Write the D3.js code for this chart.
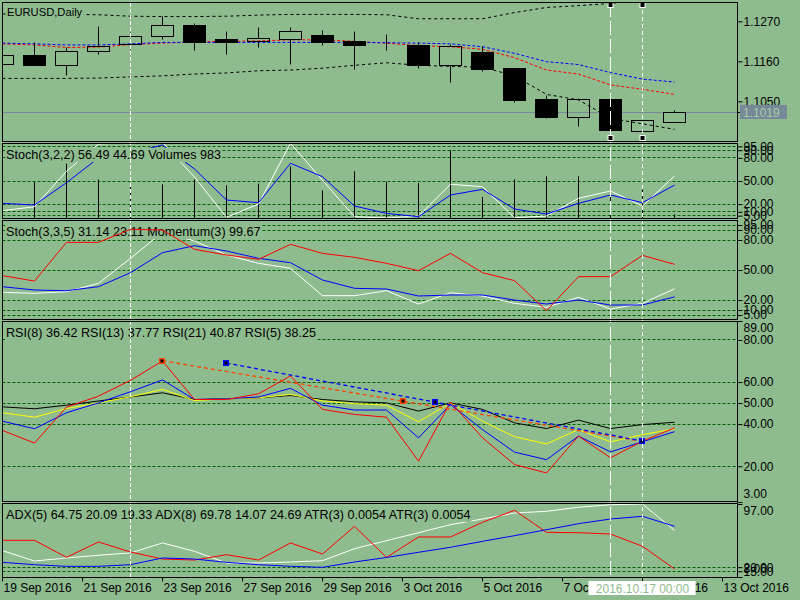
<!DOCTYPE html>
<html>
<head>
<meta charset="utf-8">
<script src="https://cdn.jsdelivr.net/npm/d3@7"></script>
<style>
	body { margin: 0; background: #8fbc8f; }
	svg { display: block; }
</style>
</head>
<body>
<svg id="chart" width="800" height="600"></svg>
<script>
(function(){

	//Daily bars, oldest first
	var barDates = ["2016.09.19","2016.09.20","2016.09.21","2016.09.22","2016.09.23","2016.09.26","2016.09.27","2016.09.28","2016.09.29","2016.09.30","2016.10.03","2016.10.04","2016.10.05","2016.10.06","2016.10.07","2016.10.10","2016.10.11","2016.10.12","2016.10.13","2016.10.14","2016.10.17","2016.10.18"];
	var opens  = [1.1152,1.1175,1.1148,1.1186,1.1207,1.1229,1.1258,1.1219,1.1214,1.1220,1.1230,1.1214,1.1204,1.1204,1.1148,1.1184,1.1139,1.1054,1.1005,1.1056,1.0966,1.0993];
	var highs  = [1.1175,1.1211,1.1197,1.1257,1.1240,1.1283,1.1263,1.1241,1.1252,1.1252,1.1246,1.1241,1.1235,1.1211,1.1205,1.1200,1.1141,1.1067,1.1059,1.1058,1.0998,1.1026];
	var lows   = [1.1152,1.1148,1.1120,1.1180,1.1193,1.1219,1.1189,1.1180,1.1197,1.1151,1.1203,1.1137,1.1189,1.1141,1.1101,1.1133,1.1046,1.1002,1.0982,1.0969,1.0966,1.0993];
	var closes = [1.1175,1.1148,1.1188,1.1200,1.1227,1.1258,1.1213,1.1213,1.1224,1.1243,1.1213,1.1203,1.1204,1.1148,1.1202,1.1137,1.1053,1.1005,1.1056,1.0969,1.0998,1.1019];
	var priceNow = 1.1019;

	//moving averages and bands on the price chart
	var maBlue  = [1.1210,1.1208,1.1205,1.1205,1.1208,1.1212,1.1212,1.1212,1.1212,1.1212,1.1212,1.1212,1.1211,1.1210,1.1208,1.1200,1.1182,1.1159,1.1151,1.1129,1.1111,1.1103];
	var maRed   = [1.1208,1.1205,1.1198,1.1199,1.1206,1.1210,1.1213,1.1215,1.1216,1.1219,1.1219,1.1215,1.1210,1.1203,1.1200,1.1193,1.1170,1.1136,1.1125,1.1095,1.1083,1.1069];
	var bbUpper = [1.1290,1.1290,1.1289,1.1288,1.1284,1.1283,1.1283,1.1284,1.1287,1.1289,1.1289,1.1289,1.1288,1.1277,1.1277,1.1277,1.1294,1.1308,1.1313,1.1319,1.1329,1.1337];
	var bbLower = [1.1113,1.1113,1.1113,1.1114,1.1117,1.1120,1.1125,1.1128,1.1134,1.1136,1.1141,1.1149,1.1156,1.1149,1.1146,1.1144,1.1120,1.1069,1.1054,1.1003,1.0988,1.0973];

	//Stoch(3,2,2) + Volumes
	var stochAMain   = [11.4,16.6,62.6,98,100,100,55.2,2.9,20.1,99,50.9,3.6,2,4.5,45.7,42.6,2.3,4.5,27.5,37,17.5,56.49];
	var stochASignal = [21,18.8,47.8,80,86,96.8,65.6,25.3,21.8,73,55.6,17.5,8,3.6,31.8,39.2,13.6,7.1,21,31.8,21.8,44.69];
	var volumes = [12000,9470,14300,10100,8860,8860,10180,8600,9050,13600,7290,12280,9570,9200,17800,5520,10180,10970,10970,9470,7550,983];

	//Stoch(3,3,5) + Momentum(3)
	var stochBMain   = [27.7,26.7,28.3,36.7,61.7,87.7,79,65,56.7,51.7,24.3,24.3,29.3,16,27.3,24,16.7,12.7,22.7,11,16.7,31.14];
	var stochBSignal = [33.3,30,29.3,33.3,47.3,67.3,74.3,69,61.7,57.3,40,31.7,31,24,25,25,20,16,20,15,15,23.11];
	var momentum = [99.33,99.17,100.33,100.33,100.72,100.70,100.12,99.95,99.82,100.27,100.00,99.88,99.70,99.48,100.00,99.42,99.18,98.28,99.30,99.30,99.94,99.67];

	//RSI lines
	var rsi5  = [37,31,48.1,53.3,60.8,70,51.7,51.7,54.4,62.9,47,44.6,43.3,22.4,50.5,33.5,20.8,16.8,34.3,24,31.9,38.25];
	var rsi8  = [41.4,37.8,45.4,50.1,55.4,61,51.7,52,52.9,57,49,46.7,46.7,33.5,49.3,37.4,26.7,23.1,34.3,26.8,31.6,36.42];
	var rsi13 = [45.4,43.3,47.4,50.1,53,56.5,51.2,52,52.5,54.1,51,49.7,49,41.1,50.1,41.4,34,30.6,37.4,31.6,35,37.77];
	var rsi21 = [48.2,47.3,49,51,52.9,54.9,51.7,52,52.5,53.6,51.7,50.6,50.1,46.2,50.1,47,40.6,37.9,41.9,37.9,39.8,40.87];
	//trend lines drawn on the RSI window: [bar, value]
	var trendOrange = [[5,70.1],[12.5,50.9],[19.8,32.3]];
	var trendBlue   = [[7,69.0],[13.5,50.5],[20,32.0]];

	//ADX window
	var adx5Main = [40.1,27.5,31.2,34.5,37.3,49.5,39.3,25.1,25.1,26.3,27.9,42.5,52.3,62,71.8,78.7,86,88.1,93,96.1,97,64.75];
	var adx8Main = [25.9,23,21,21,23,31.2,29.9,25.9,23,21,19.8,26.3,31.8,38.1,44.2,51.5,58.4,65.7,73,78.7,82,69.78];
	var adxDI    = [52.7,52.7,32,50.7,38.5,29.9,28.7,35.2,28.7,49.5,36,69.8,32,56.8,56.8,74.7,89.3,62.5,62,60.4,45.4,17.8];

	//levels and tick labels
	var priceTicks = [1.1270, 1.1160, 1.1050];
	var stochLevels = [95, 90, 80, 50, 20, 10, 5];
	var rsiLevels = [80, 60, 50, 40, 20];
	var rsiTicks = [89, 80, 60, 50, 40, 20, 3];
	var adxLevels = [20, 15];
	var adxTicks = [97, 20, 15, 8];
	var xLabels = ["19 Sep 2016","21 Sep 2016","23 Sep 2016","27 Sep 2016","29 Sep 2016","3 Oct 2016","5 Oct 2016","7 Oct 2016","11 Oct 2016","13 Oct 2016"];
	var xLabelBars = [0, 2.5, 5, 7.5, 10, 12.5, 15, 17.5, 20, 22.5];
	var vLineBars = [4, 19, 20];
	var selectedBar = 20;

	var legends = {
		main: "EURUSD,Daily",
		stochA: "Stoch(3,2,2) 56.49 44.69 Volumes 983",
		stochB: "Stoch(3,3,5) 31.14 23.11 Momentum(3) 99.67",
		rsi: "RSI(8) 36.42 RSI(13) 37.77 RSI(21) 40.87 RSI(5) 38.25",
		adx: "ADX(5) 64.75 20.09 19.33 ADX(8) 69.78 14.07 24.69 ATR(3) 0.0054 ATR(3) 0.0054"
	};

	//Look
	var bg = "#8fbc8f";
	var gridColor = "#006400";
	var font = "'Liberation Sans', Arial, sans-serif";
	var legendSize = 12.6;
	var left = 2.5, right = 737.5;

	var svg = d3.select("#chart")
		.attr("font-family", font)
		.attr("font-size", 12);

	svg.append("rect").attr("width", 800).attr("height", 600).attr("fill", bg);

	//bar index -> x
	var xBar = d3.scaleLinear().domain([0, 21]).range([2.5, 674.5]);

	//value scales for every window
	var yPrice = d3.scaleLinear().domain([1.1050, 1.1270]).range([101.3, 21.3]);
	var yStochA = d3.scaleLinear().domain([0, 100]).range([219.5, 142.5]);
	var yVol = d3.scaleLinear().domain([0, 20000]).range([218, 142]);
	var yStochB = d3.scaleLinear().domain([0, 100]).range([320, 220]);
	var yMom = d3.scaleLinear().domain([98, 101]).range([320, 220]);
	var yRsi = d3.scaleLinear().domain([3, 89]).range([502, 321]);
	var yAdx = d3.scaleLinear().domain([8, 97]).range([577, 504]);

	var pMain = makePanel("main", 2.5, 141.5);
	var pStochA = makePanel("stochA", 143.5, 218.5);
	var pStochB = makePanel("stochB", 220.5, 319.5);
	var pRsi = makePanel("rsi", 321.5, 501.5);
	var pAdx = makePanel("adx", 503.5, 577.5);

	// ---- price window ----
	drawSeries(pMain.inner, bbUpper, yPrice, "black", "3,3");
	drawSeries(pMain.inner, bbLower, yPrice, "black", "3,3");
	drawSeries(pMain.inner, maRed, yPrice, "red", "3,2");
	drawSeries(pMain.inner, maBlue, yPrice, "blue", "3,2");

	pMain.inner.append("line")
		.attr("x1", left).attr("x2", right)
		.attr("y1", px(yPrice(priceNow))).attr("y2", px(yPrice(priceNow)))
		.attr("stroke", "#778899");

	drawCandles(pMain.inner);
	drawLegend(pMain.g, 7, 16, legends.main, 11.2);

	// ---- Stoch(3,2,2) + Volumes ----
	drawLevels(pStochA, stochLevels, yStochA);
	pStochA.inner.selectAll(".vol")
		.data(volumes)
		.enter()
		.append("line")
		.attr("x1", function(d, i){ return xBar(i); })
		.attr("x2", function(d, i){ return xBar(i); })
		.attr("y1", yVol(0))
		.attr("y2", function(d){ return yVol(d); })
		.attr("stroke", "black");
	drawSeries(pStochA.inner, stochAMain, yStochA, "white");
	drawSeries(pStochA.inner, stochASignal, yStochA, "blue");
	drawLegend(pStochA.g, 6, 159, legends.stochA, legendSize);

	// ---- Stoch(3,3,5) + Momentum ----
	drawLevels(pStochB, stochLevels, yStochB);
	drawSeries(pStochB.inner, stochBMain, yStochB, "white");
	drawSeries(pStochB.inner, stochBSignal, yStochB, "blue");
	drawLegend(pStochB.g, 6, 236, legends.stochB, legendSize);
	drawSeries(pStochB.g.append("g").attr("clip-path", "url(#clip-stochB)"), momentum, yMom, "red");

	// ---- RSI ----
	drawLevels(pRsi, rsiLevels, yRsi);
	drawSeries(pRsi.inner, rsi21, yRsi, "black");
	drawSeries(pRsi.inner, rsi13, yRsi, "yellow");
	drawSeries(pRsi.inner, rsi8, yRsi, "blue");
	drawSeries(pRsi.inner, rsi5, yRsi, "red");
	drawTrend(pRsi.inner, trendOrange, "#ff4500", 2);
	drawTrend(pRsi.inner, trendBlue, "blue", 3);
	drawLegend(pRsi.g, 6, 337, legends.rsi, legendSize);

	// ---- ADX / ATR ----
	drawLevels(pAdx, adxLevels, yAdx);
	drawSeries(pAdx.inner, adx5Main, yAdx, "white");
	drawSeries(pAdx.inner, adxDI, yAdx, "red");
	drawSeries(pAdx.inner, adx8Main, yAdx, "blue");
	drawLegend(pAdx.g, 6, 519, legends.adx, legendSize);

	// ---- right axes ----
	drawAxis(yPrice, priceTicks, ".4f");
	drawAxis(yStochA, stochLevels, ".2f");
	drawAxis(yStochB, stochLevels, ".2f");
	drawAxis(yRsi, rsiTicks, ".2f", 89, 3);
	drawAxis(yAdx, adxTicks, ".2f", 97, 8);

	//current price tag
	var tagY = px(yPrice(priceNow));
	svg.append("line")
		.attr("x1", right).attr("x2", 741)
		.attr("y1", tagY).attr("y2", tagY)
		.attr("stroke", "black");
	svg.append("rect")
		.attr("x", 740).attr("y", tagY - 7.5)
		.attr("width", 47).attr("height", 14)
		.attr("fill", "#778899");
	svg.append("text")
		.attr("x", 743).attr("y", tagY + 4.5)
		.attr("fill", "#a6cda4")
		.text(d3.format(".4f")(priceNow));

	// ---- time axis ----
	var timeAxis = svg.append("g")
		.attr("transform", "translate(-0.5,577.5)")
		.call(d3.axisBottom(xBar)
			.tickValues(xLabelBars)
			.tickSize(4)
			.tickPadding(2)
			.tickFormat(function(d, i){ return xLabels[i]; }));
	timeAxis.attr("font-family", font).attr("font-size", 12);
	timeAxis.select(".domain").remove();
	timeAxis.selectAll("text").attr("text-anchor", "start").attr("x", 1);

	// ---- vertical lines ----
	var vDash = ["4,2", "14,4", "4,3"];
	svg.selectAll(".vline")
		.data(vLineBars)
		.enter()
		.append("line")
		.attr("x1", function(d){ return xBar(d); })
		.attr("x2", function(d){ return xBar(d); })
		.attr("y1", 3).attr("y2", 577)
		.attr("stroke", "white")
		.attr("stroke-dasharray", function(d, i){ return vDash[i]; });

	//selection handles of the two right lines
	[19, 20].forEach(function(b){
		[5, 138].forEach(function(y){
			svg.append("rect")
				.attr("x", xBar(b) - 3).attr("y", y - 3)
				.attr("width", 6).attr("height", 6)
				.attr("fill", "white");
			svg.append("rect")
				.attr("x", xBar(b) - 2).attr("y", y - 2)
				.attr("width", 4).attr("height", 4)
				.attr("fill", "black");
		});
	});

	//borders last so they sit above the lines
	[pMain, pStochA, pStochB, pRsi, pAdx].forEach(function(p){
		svg.append("rect")
			.attr("x", left).attr("y", p.top)
			.attr("width", right - left).attr("height", p.bottom - p.top)
			.attr("fill", "none")
			.attr("stroke", "black");
	});

	//date tag of the selected line
	var tagText = barDates[selectedBar] + " 00:00";
	svg.append("rect")
		.attr("x", xBar(selectedBar) - 54).attr("y", 581)
		.attr("width", 107).attr("height", 14)
		.attr("fill", "white");
	svg.append("text")
		.attr("x", xBar(selectedBar)).attr("y", 592.5)
		.attr("text-anchor", "middle")
		.attr("fill", bg)
		.text(tagText);


	//Creates a window with its own clip region
	function makePanel(name, top, bottom){
		svg.append("clipPath")
			.attr("id", "clip-" + name)
			.append("rect")
			.attr("x", left + 0.5).attr("y", top + 0.5)
			.attr("width", right - left - 1).attr("height", bottom - top - 1);
		var g = svg.append("g").attr("id", name);
		var inner = g.append("g").attr("clip-path", "url(#clip-" + name + ")");
		return {g: g, inner: inner, top: top, bottom: bottom};
	}

	//snap to the middle of a pixel
	function px(v){ return Math.round(v - 0.5) + 0.5; }

	function drawLevels(p, levels, scale){
		p.inner.selectAll(".level")
			.data(levels)
			.enter()
			.append("line")
			.attr("x1", left).attr("x2", right)
			.attr("y1", function(d){ return px(scale(d)); })
			.attr("y2", function(d){ return px(scale(d)); })
			.attr("stroke", gridColor)
			.attr("stroke-dasharray", "3,2");
	}

	function drawSeries(target, values, scale, color, dash){
		var line = d3.line()
			.x(function(d, i){ return xBar(i); })
			.y(function(d){ return scale(d); });
		target.append("path")
			.datum(values)
			.attr("d", line)
			.attr("fill", "none")
			.attr("stroke", color)
			.attr("stroke-width", 1)
			.attr("stroke-dasharray", dash || null);
	}

	//dashed trend line with square anchors
	function drawTrend(target, pts, color, anchors){
		var first = pts[0], last = pts[pts.length - 1];
		target.append("line")
			.attr("x1", xBar(first[0])).attr("y1", yRsi(first[1]))
			.attr("x2", xBar(last[0])).attr("y2", yRsi(last[1]))
			.attr("stroke", color)
			.attr("stroke-width", 1.3)
			.attr("stroke-dasharray", "4,3");
		pts.slice(0, anchors).forEach(function(p){
			var cx = Math.round(xBar(p[0])), cy = Math.round(yRsi(p[1]));
			target.append("rect")
				.attr("x", cx - 3).attr("y", cy - 3)
				.attr("width", 6).attr("height", 6)
				.attr("fill", color);
			target.append("rect")
				.attr("x", cx - 1.5).attr("y", cy - 1.5)
				.attr("width", 3).attr("height", 3)
				.attr("fill", "black");
		});
	}

	//window caption, painted over a patch of background
	function drawLegend(target, x, y, str, size){
		var t = target.append("text")
			.attr("x", x).attr("y", y)
			.attr("font-size", size)
			.attr("fill", "black")
			.text(str);
		var box = t.node().getBBox();
		target.insert("rect", function(){ return t.node(); })
			.attr("x", box.x - 1).attr("y", box.y)
			.attr("width", box.width + 2).attr("height", box.height)
			.attr("fill", bg);
	}

	function drawAxis(scale, ticks, fmt, top, bottom){
		var a = svg.append("g")
			.attr("transform", "translate(" + right + ",0)")
			.call(d3.axisRight(scale)
				.tickValues(ticks)
				.tickSize(5)
				.tickPadding(1)
				.tickFormat(d3.format(fmt)));
		a.attr("font-family", font).attr("font-size", 12);
		a.select(".domain").remove();
		a.selectAll(".tick text")
			.attr("dy", function(d){
				if(d === top) return "0.9em";
				if(d === bottom) return "-0.35em";
				return "0.32em";
			});
	}

	function drawCandles(target){
		var half = 11;
		var candles = target.selectAll(".candle")
			.data(opens)
			.enter()
			.append("g")
			.classed("candle", true);

		//upper and lower wicks
		candles.append("line")
			.attr("x1", function(d, i){ return xBar(i); })
			.attr("x2", function(d, i){ return xBar(i); })
			.attr("y1", function(d, i){ return px(yPrice(highs[i])); })
			.attr("y2", function(d, i){ return px(yPrice(Math.max(opens[i], closes[i]))); })
			.attr("stroke", "black");
		candles.append("line")
			.attr("x1", function(d, i){ return xBar(i); })
			.attr("x2", function(d, i){ return xBar(i); })
			.attr("y1", function(d, i){ return px(yPrice(Math.min(opens[i], closes[i]))); })
			.attr("y2", function(d, i){ return px(yPrice(lows[i])); })
			.attr("stroke", "black");

		//bodies: hollow when the day closed up
		candles.append("rect")
			.attr("x", function(d, i){ return xBar(i) - half; })
			.attr("y", function(d, i){ return px(yPrice(Math.max(opens[i], closes[i]))); })
			.attr("width", half * 2)
			.attr("height", function(d, i){
				return Math.max(0, px(yPrice(Math.min(opens[i], closes[i]))) - px(yPrice(Math.max(opens[i], closes[i]))));
			})
			.attr("fill", function(d, i){ return closes[i] < opens[i] ? "black" : "none"; })
			.attr("stroke", "black");
	}

})();
</script>
</body>
</html>
